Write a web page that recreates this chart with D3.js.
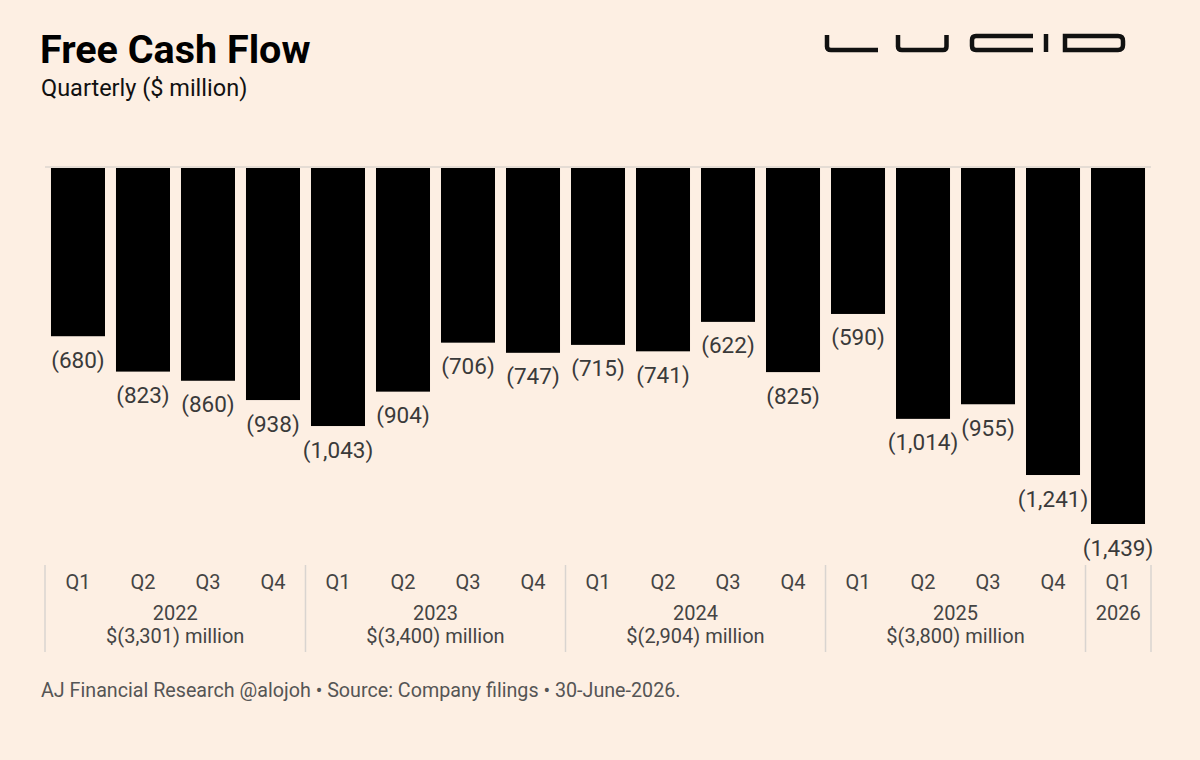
<!DOCTYPE html>
<html>
<head>
<meta charset="utf-8">
<script src="https://cdn.jsdelivr.net/npm/d3@7"></script>
<style>
  html, body { margin: 0; padding: 0; background: #fdefe3; }
  svg { display: block; font-family: Roboto, "Noto Sans", sans-serif; }
</style>
</head>
<body>
<svg id="chart" width="1200" height="760"></svg>
<script>
// ---- data ----
const quarters = ["Q1","Q2","Q3","Q4","Q1","Q2","Q3","Q4","Q1","Q2","Q3","Q4","Q1","Q2","Q3","Q4","Q1"];
const years = ["2022","2022","2022","2022","2023","2023","2023","2023","2024","2024","2024","2024","2025","2025","2025","2025","2026"];
const fcf = [-680,-823,-860,-938,-1043,-904,-706,-747,-715,-741,-622,-825,-590,-1014,-955,-1241,-1439];
const yearNames = ["2022","2023","2024","2025","2026"];
const yearTotals = ["$(3,301) million","$(3,400) million","$(2,904) million","$(3,800) million",""];

const svg = d3.select("#chart");
const W = 1200, H = 760;
svg.append("rect").attr("width", W).attr("height", H).attr("fill", "#fdefe3");

const idx = d3.range(fcf.length);
const x = d3.scaleBand().domain(idx).range([45, 1151]).paddingInner(0.169).paddingOuter(0.092);
const y = d3.scaleLinear().domain([0, -1439]).range([168, 524]);

const fmt = v => "(" + d3.format(",")(Math.abs(v)) + ")";

// title
svg.append("text").attr("x", 40).attr("y", 63).attr("font-size", 39.5).attr("font-weight", 700)
  .attr("fill", "#000").text("Free Cash Flow");
svg.append("text").attr("x", 41).attr("y", 96).attr("font-size", 23.5).attr("fill", "#111")
  .text("Quarterly ($ million)");

// baseline
svg.append("line").attr("x1", 45).attr("x2", 1151).attr("y1", y(0) - 1).attr("y2", y(0) - 1)
  .attr("stroke", "#ddd6cf").attr("stroke-width", 1.5);

// bars
svg.append("g").selectAll("rect").data(idx).join("rect")
  .attr("x", i => x(i)).attr("width", x.bandwidth())
  .attr("y", i => y(0)).attr("height", i => y(fcf[i]) - y(0))
  .attr("fill", "#000");

// value labels
svg.append("g").selectAll("text").data(idx).join("text")
  .attr("x", i => x(i) + x.bandwidth() / 2).attr("y", i => y(fcf[i]) + 31.5)
  .attr("text-anchor", "middle").attr("font-size", 22.5).attr("fill", "#3a3a3a")
  .text(i => fmt(fcf[i]));

// quarter labels
svg.append("g").selectAll("text").data(idx).join("text")
  .attr("x", i => x(i) + x.bandwidth() / 2).attr("y", 589)
  .attr("text-anchor", "middle").attr("font-size", 20).attr("fill", "#444")
  .text(i => quarters[i]);

// year groups
const gap = x.step() - x.bandwidth();
const groups = yearNames.map((yr, k) => {
  const members = idx.filter(i => years[i] === yr);
  const first = members[0], last = members[members.length - 1];
  const left = k === 0 ? 45 : x(first) - gap / 2;
  const right = k === yearNames.length - 1 ? 1151 : x(last) + x.bandwidth() + gap / 2;
  return { yr, total: yearTotals[k], left, right };
});
const sep = [groups[0].left].concat(groups.map(g => g.right));
svg.append("g").selectAll("line").data(sep).join("line")
  .attr("x1", d => d).attr("x2", d => d).attr("y1", 565).attr("y2", 652)
  .attr("stroke", "#d9d4d0").attr("stroke-width", 1.5);

svg.append("g").selectAll("text").data(groups).join("text")
  .attr("x", g => (g.left + g.right) / 2).attr("y", 620)
  .attr("text-anchor", "middle").attr("font-size", 20).attr("fill", "#444")
  .text(g => g.yr);
svg.append("g").selectAll("text").data(groups).join("text")
  .attr("x", g => (g.left + g.right) / 2).attr("y", 643)
  .attr("text-anchor", "middle").attr("font-size", 20).attr("fill", "#444")
  .text(g => g.total);

// footer
svg.append("text").attr("x", 41).attr("y", 697).attr("font-size", 19.7).attr("fill", "#555")
  .text("AJ Financial Research @alojoh • Source: Company filings • 30-June-2026.");

// logo (graphic)
const logo = svg.append("g").attr("fill", "none").attr("stroke", "#111").attr("stroke-width", 4.5)
  .attr("stroke-linecap", "butt");
logo.append("title").text("LUCID");
// L
logo.append("path").attr("d", "M827,35 L827,46.5 Q827,50 831,50 L878,50");
// U
logo.append("path").attr("d", "M898,35 L898,46.5 Q898,50 902,50 L943,50 Q946.5,50 946.5,46.5 L946.5,35");
// C
logo.append("path").attr("d", "M1033,36 L976,36 Q972,36 972,40 L972,46 Q972,50 976,50 L1033,50");
// I
logo.append("path").attr("d", "M1046,34 L1046,52");
// D
logo.append("path").attr("d", "M1065,36 L1118,36 Q1123,36 1123,41 L1123,45 Q1123,50 1118,50 L1065,50 Z");
</script>
</body>
</html>
